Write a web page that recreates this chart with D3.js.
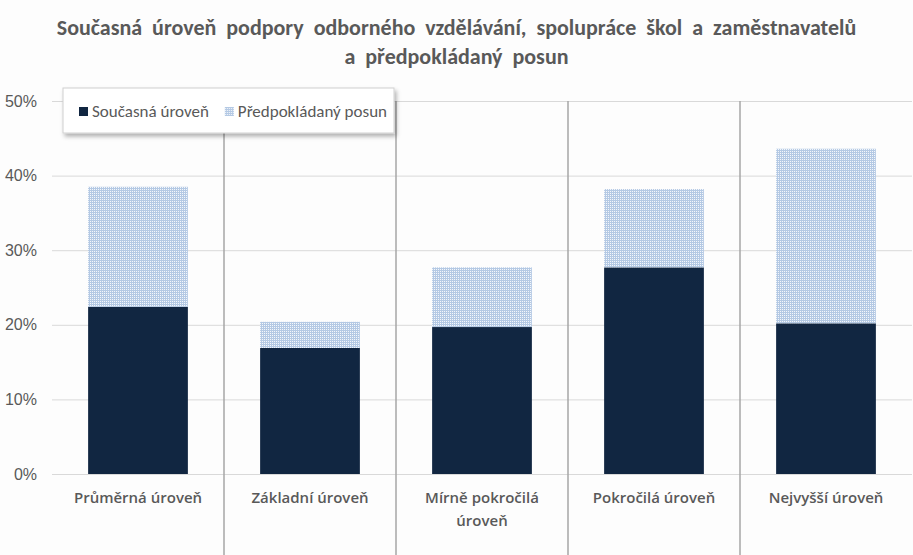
<!DOCTYPE html>
<html lang="cs">
<head>
<meta charset="UTF-8">
<title>Současná úroveň podpory odborného vzdělávání</title>
<script src="https://d3js.org/d3.v7.min.js"></script>
<style>
  html, body { margin: 0; padding: 0; background: #fdfdfd; }
  svg { display: block; font-family: Calibri, Carlito, 'Open Sans', 'Noto Sans', sans-serif; }
  .tick text { fill: #595959; font-size: 15px; }
  .grid line { stroke: #d9d9d9; }
  .grid path { stroke: none; }
</style>
</head>
<body>
<div id="chart"></div>
<script>
// data
const categories = [["Průměrná úroveň"], ["Základní úroveň"], ["Mírně pokročilá", "úroveň"], ["Pokročilá úroveň"], ["Nejvyšší úroveň"]];
const current = [0.224, 0.169, 0.197, 0.277, 0.202];
const shift = [0.161, 0.035, 0.080, 0.105, 0.234];
const yTicks = [0, 0.1, 0.2, 0.3, 0.4, 0.5];
const seriesNames = ["Současná úroveň", "Předpokládaný posun"];
const titleLines = ["Současná úroveň podpory odborného vzdělávání, spolupráce škol a zaměstnavatelů", "a předpokládaný posun"];

const W = 913, H = 555;
const margin = { top: 101, right: 1, bottom: 81, left: 52 };
const width = W - margin.left - margin.right,
  height = H - margin.top - margin.bottom;

const svg = d3.select("#chart").append("svg")
  .attr("width", W).attr("height", H);

// dotted fill for the expected shift
const defs = svg.append("defs");
const pat = defs.append("pattern")
  .attr("id", "dots").attr("patternUnits", "userSpaceOnUse")
  .attr("width", 2).attr("height", 2);
pat.append("rect").attr("width", 2).attr("height", 2).attr("fill", "#b4c9e4");
pat.append("rect").attr("width", 1).attr("height", 1).attr("fill", "#f4f7fb");

const shadow = defs.append("filter").attr("id", "shadow")
  .attr("x", "-10%").attr("y", "-30%").attr("width", "130%").attr("height", "180%");
shadow.append("feDropShadow").attr("dx", 2).attr("dy", 3).attr("stdDeviation", 2)
  .attr("flood-color", "#000").attr("flood-opacity", 0.3);

// title
svg.append("text")
  .attr("x", W / 2).attr("y", 35)
  .attr("text-anchor", "middle")
  .attr("fill", "#595959")
  .style("font-size", "22px").style("font-weight", "bold").style("word-spacing", "5px")
  .selectAll("tspan").data(titleLines).join("tspan")
  .attr("x", W / 2).attr("dy", (d, i) => i ? 29 : 0)
  .text(d => d);

const g = svg.append("g").attr("transform", `translate(${margin.left},${margin.top})`);

const x = d3.scaleBand().domain(d3.range(categories.length)).range([0, width]).paddingInner(0.42).paddingOuter(0.21);
const y = d3.scaleLinear().domain([0, 0.5]).range([height, 0]);

// gridlines
g.append("g").attr("class", "grid")
  .call(d3.axisLeft(y).tickValues(yTicks).tickSize(-width).tickFormat(""));

// y labels
g.append("g")
  .call(d3.axisLeft(y).tickValues(yTicks).tickSize(0).tickPadding(15).tickFormat(d3.format(".0%")))
  .call(a => a.select(".domain").remove())
  .selectAll("text").style("font-size", "16px");

// category separators
const step = width / categories.length;
g.selectAll(".sep").data(d3.range(1, categories.length)).join("line")
  .attr("class", "sep")
  .attr("x1", d => d * step).attr("x2", d => d * step)
  .attr("y1", 0).attr("y2", H - margin.top)
  .attr("stroke", "#a6a6a6").attr("stroke-width", 1.5);

// bars
g.selectAll(".cur").data(current).join("rect")
  .attr("x", (d, i) => x(i)).attr("width", x.bandwidth())
  .attr("y", d => y(d)).attr("height", d => y(0) - y(d))
  .attr("fill", "#112641");

g.selectAll(".shift").data(shift).join("rect")
  .attr("x", (d, i) => x(i)).attr("width", x.bandwidth())
  .attr("y", (d, i) => y(current[i] + d)).attr("height", d => y(0) - y(d))
  .attr("fill", "url(#dots)");

// category labels
g.selectAll(".cat").data(categories).join("text")
  .attr("text-anchor", "middle")
  .attr("fill", "#595959")
  .style("font-family", "'Open Sans', 'Noto Sans', sans-serif")
  .style("font-size", "15px").style("font-weight", "600")
  .attr("transform", (d, i) => `translate(${x(i) + x.bandwidth() / 2},${height + 29})`)
  .selectAll("tspan").data(d => d).join("tspan")
  .attr("x", 0).attr("dy", (d, i) => i ? 23 : 0)
  .text(d => d);

// legend
const lg = svg.append("g").attr("transform", "translate(63,88)");
lg.append("rect").attr("width", 331).attr("height", 45)
  .attr("fill", "#fff").attr("stroke", "#d0d0d0").attr("filter", "url(#shadow)");
const items = [{ name: seriesNames[0], fill: "#112641" }, { name: seriesNames[1], fill: "url(#dots)" }];
const li = lg.selectAll(".li").data(items).join("g");
li.append("rect").attr("y", 19).attr("width", 9).attr("height", 9).attr("fill", d => d.fill);
li.append("text").attr("x", 13).attr("y", 29)
  .attr("fill", "#595959").style("font-size", "17px")
  .text(d => d.name);
// place second item after the first one's text
let cx = 16;
li.attr("transform", function () {
  const t = `translate(${cx},0)`;
  cx += this.getBBox().width + 16;
  return t;
});
</script>
</body>
</html>
